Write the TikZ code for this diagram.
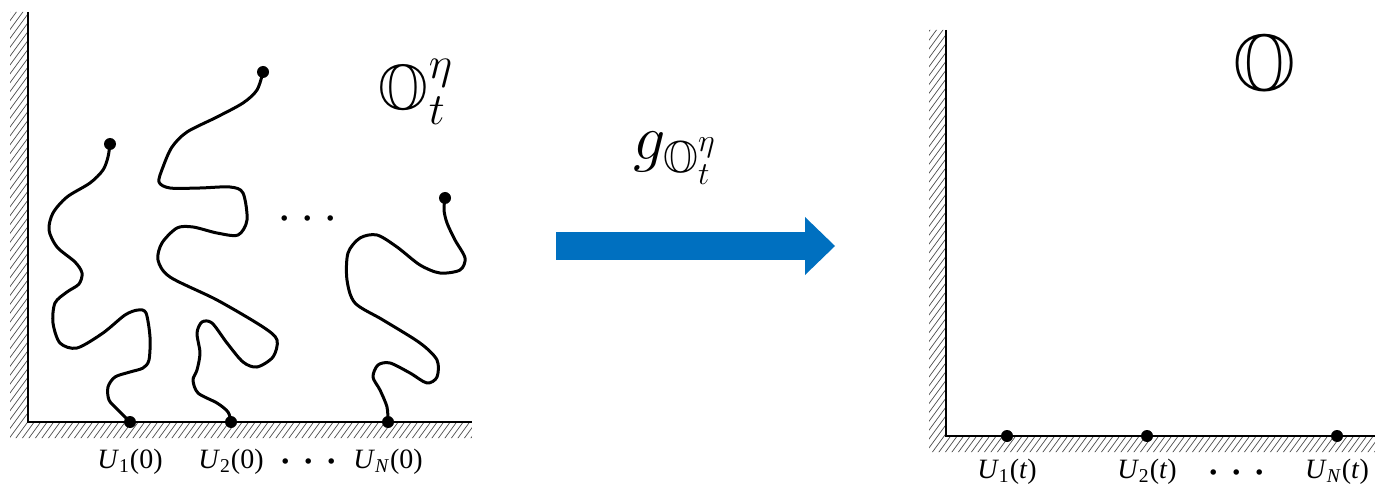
\documentclass[tikz,border=0pt]{standalone}
\usepackage{fix-cm}
\usepackage{amssymb}
\usepackage{fontspec}
\newfontfamily\labelfont{Liberation Serif}
\usetikzlibrary{arrows.meta,positioning}
\definecolor{mapblue}{HTML}{0070C0}

\begin{document}
\begin{tikzpicture}[
  x=0.5pt, y=-0.5pt,
  wall/.style={line width=1.3pt},
  hatch/.style={line width=0.35pt, black!70},
  walk/.style={line width=1.5pt, line join=round, line cap=round},
  pt/.style={circle, fill=black, inner sep=0pt, minimum size=6pt},
  lbl/.style={font=\labelfont\fontsize{14}{16}\selectfont, inner sep=0pt},
  dotsl/.style={font=\fontsize{26}{28}\selectfont, inner sep=0pt},
  big/.style={font=\fontsize{32}{36}\selectfont, inner sep=0pt},
  maparrow/.style={-{Triangle[length=15pt, width=29pt, line width=0pt]}, mapblue, line width=14pt},
]
  \useasboundingbox (0,0) rectangle (1375,486);

  % Dominio con curvas (izquierda): pared rayada
  \begin{scope}
    \clip (10,12) rectangle (28,438) (28,422) rectangle (472,438);
    \foreach \s in {0,6.5,...,1000} \draw[hatch] (\s-330,440) -- ++(330,-450);
  \end{scope}
  \draw[wall] (28,12) -- (28,422) -- (472,422);

  % Puntos de partida y puntas
  \node[pt] (s1) at (130,422) {};
  \node[pt] (s2) at (231,422) {};
  \node[pt] (s3) at (388,422) {};
  \node[pt] (e1) at (110,144) {};
  \node[pt] (e2) at (263,72) {};
  \node[pt] (e3) at (445,198) {};

  % Curvas
  \draw[walk] plot[smooth] coordinates {(s1) (118,410) (109,400) (108,387) (115,377)
    (130,372) (143,368) (149,360) (150,337) (146,313) (138,310) (125,315) (103,333)
    (77,348) (60,343) (53,323) (55,303) (67,292) (79,284) (82,273) (75,262) (57,247)
    (49,230) (53,213) (67,197) (90,183) (103,170) (108,157) (e1)};
  \draw[walk] plot[smooth] coordinates {(s2) (228,412) (217,403) (198,393) (193,380)
    (197,370) (200,353) (197,333) (202,322) (212,323) (227,343) (243,362) (257,367)
    (273,357) (277,340) (263,327) (217,300) (170,277) (158,260) (162,243) (177,228)
    (193,227) (217,233) (238,235) (247,220) (243,193) (230,187) (200,188) (170,188)
    (159,182) (163,167) (172,147) (187,132) (217,117) (243,103) (257,90) (e2)};
  \draw[walk] plot[smooth] coordinates {(s3) (387,407) (380,390) (373,377) (378,365)
    (390,363) (410,373) (427,383) (437,377) (437,360) (420,343) (383,320) (355,303)
    (347,280) (348,253) (360,238) (377,235) (397,247) (420,265) (440,273) (460,270)
    (465,258) (455,240) (447,223) (444,210) (e3)};

  % Etiquetas del dominio
  \node[dotsl] (mid) at (308,220) {$\cdots$};
  \node[big] (dom) at (416,92) {$\mathbb{O}_t^\eta$};
  \node[lbl, below=10pt of s1] (u1) {\textit{U}\textsubscript{1}(0)};
  \node[lbl, below=10pt of s2] (u2) {\textit{U}\textsubscript{2}(0)};
  \node[lbl, below=10pt of s3] (u3) {\textit{U}\textsubscript{\textit{N}}(0)};
  \node[dotsl] (udots) at (309,463) {$\cdots$};

  % Flecha del mapeo
  \coordinate (astart) at (556,246);
  \coordinate (aend) at (835,246);
  \draw[maparrow] (astart) -- (aend);
  \node[big] (glbl) at (675,158) {$g_{\mathbb{O}_t^\eta}$};

  % Semiplano (derecha)
  \begin{scope}
    \clip (929,30) rectangle (946,452) (946,436) rectangle (1375,452);
    \foreach \s in {0,6.5,...,1000} \draw[hatch] (\s+580,454) -- ++(330,-450);
  \end{scope}
  \draw[wall] (946,30) -- (946,436) -- (1375,436);

  \node[pt] (t1) at (1007,436) {};
  \node[pt] (t2) at (1147,436) {};
  \node[pt] (t3) at (1337,436) {};
  \node[lbl, below=8pt of t1] (v1) {\textit{U}\textsubscript{1}(\textit{t})};
  \node[lbl, below=8pt of t2] (v2) {\textit{U}\textsubscript{2}(\textit{t})};
  \node[lbl, below=8pt of t3] (v3) {\textit{U}\textsubscript{\textit{N}}(\textit{t})};
  \node[dotsl] (vdots) at (1237,474) {$\cdots$};
  \node[font=\fontsize{40}{44}\selectfont, inner sep=0pt] (half) at (1265,70) {$\mathbb{O}$};

\end{tikzpicture}
\end{document}
